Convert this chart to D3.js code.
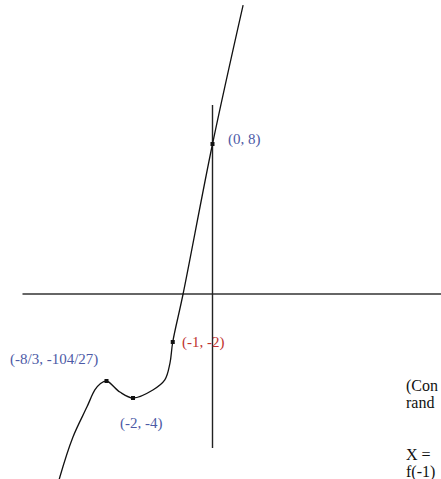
<!DOCTYPE html>
<html>
<head>
<meta charset="utf-8">
<script src="https://cdn.jsdelivr.net/npm/d3@7"></script>
<style>
  html, body { margin: 0; padding: 0; background: #fff; }
  svg { display: block; }
</style>
</head>
<body>
<script>
// Sketch of f(x) = x^3 + 7x^2 + 16x + 8 with its key points.
// Curve trace (x, y) in data units, as sketched (not to scale).
const curveX = [0.77, 0, -0.74, -1, -1.07, -1.2, -1.5, -2, -2.33, -2.667, -2.83, -2.96, -3.16, -3.51, -3.84, -3.9];
const curveY = [15.41, 8, 0, -2, -3.0, -3.8, -3.93, -4, -3.948, -3.852, -3.878, -3.93, -4.35, -5.5, -7.04, -7.4];

// Labelled points
const pointX = [0, -1, -2, -8 / 3];
const pointY = [8, -2, -4, -104 / 27];
const pointLabels = ["(0, 8)", "(-1, -2)", "(-2, -4)", "(-8/3, -104/27)"];
const pointColors = ["#4d5aa6", "#c0332f", "#4d5aa6", "#4d5aa6"];

// Side notes
const noteLines = ["(Con", "rand", "X =", "f(-1)"];
const noteBaselines = [391, 408, 460, 477];

const W = 441, H = 479;
const svg = d3.select("body").append("svg").attr("width", W).attr("height", H);

// x is linear; y is piecewise linear because the sketch stretches the dip
const x = d3.scaleLinear().domain([-1, 0]).range([172.75, 212.5]);
const y = d3.scaleLinear()
  .domain([-8, -4, -104 / 27, -2, 0, 8, 16])
  .range([502, 398, 381, 342, 294, 144, -6]);

const font = "'Liberation Serif', 'Times New Roman', serif";

// Axes
svg.append("line")
  .attr("x1", x(-4.78)).attr("x2", W)
  .attr("y1", y(0)).attr("y2", y(0))
  .attr("stroke", "#333").attr("stroke-width", 1.4);
svg.append("line")
  .attr("x1", x(0)).attr("x2", x(0))
  .attr("y1", y(10.08)).attr("y2", y(-5.92))
  .attr("stroke", "#222").attr("stroke-width", 1.4);

// Curve
const pts = curveX.map((v, i) => [v, curveY[i]]);
svg.append("path")
  .datum(pts)
  .attr("fill", "none")
  .attr("stroke", "#111")
  .attr("stroke-width", 1.3)
  .attr("d", d3.line().x(d => x(d[0])).y(d => y(d[1])).curve(d3.curveCatmullRom.alpha(0.5)));

// Point markers
svg.selectAll("rect.pt")
  .data(pointX.map((v, i) => [v, pointY[i]]))
  .join("rect")
  .attr("class", "pt")
  .attr("x", d => x(d[0]) - 2)
  .attr("y", d => y(d[1]) - 2)
  .attr("width", 4).attr("height", 4)
  .attr("fill", "#111");

// Point labels
const labelPos = [[228, 144], [182, 347], [120, 428], [10, 364]];
svg.selectAll("text.lbl")
  .data(pointLabels)
  .join("text")
  .attr("class", "lbl")
  .attr("x", (d, i) => labelPos[i][0])
  .attr("y", (d, i) => labelPos[i][1])
  .attr("fill", (d, i) => pointColors[i])
  .attr("font-family", font)
  .attr("font-size", 15)
  .text(d => d);

// Notes at the right edge
svg.selectAll("text.note")
  .data(noteLines)
  .join("text")
  .attr("class", "note")
  .attr("x", 406)
  .attr("y", (d, i) => noteBaselines[i])
  .attr("fill", "#111")
  .attr("font-family", font)
  .attr("font-size", 16)
  .text(d => d);
</script>
</body>
</html>
